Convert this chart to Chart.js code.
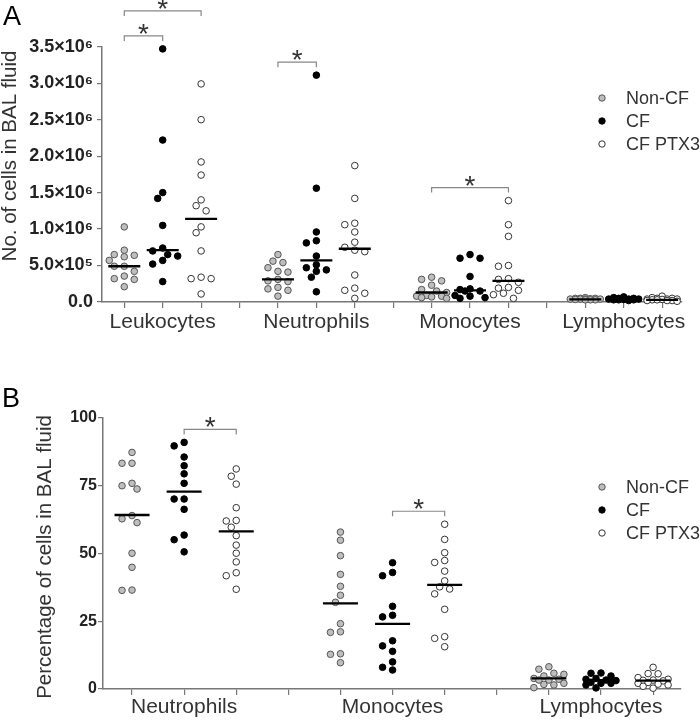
<!DOCTYPE html>
<html>
<head>
<meta charset="utf-8">
<script src="https://cdn.jsdelivr.net/npm/chart.js@4.4.1/dist/chart.umd.min.js"></script>
<style>
  html, body { margin: 0; padding: 0; background: #fff; }
  body { width: 700px; height: 720px; overflow: hidden; position: relative; }
  #wa { position: absolute; left: 0; top: 0; width: 700px; height: 350px; }
  #wb { position: absolute; left: 0; top: 365px; width: 700px; height: 355px; }
</style>
</head>
<body>
<div id="wa"><canvas id="ca"></canvas></div>
<div id="wb"><canvas id="cb"></canvas></div>
<script>
// ---------------- data ----------------
const groups = ['Non-CF', 'CF', 'CF PTX3'];

// Panel A: number of cells in BAL fluid, in millions (x10^6)
const categoriesA = ['Leukocytes', 'Neutrophils', 'Monocytes', 'Lymphocytes'];
const aNonCF = [
  [1.03, 0.71, 0.65, 0.64, 0.62, 0.57, 0.49, 0.49, 0.42, 0.355, 0.32, 0.31, 0.21],
  [0.65, 0.56, 0.54, 0.47, 0.42, 0.41, 0.31, 0.29, 0.28, 0.20, 0.18, 0.16, 0.08],
  [0.34, 0.31, 0.29, 0.23, 0.17, 0.15, 0.13, 0.09, 0.08, 0.08, 0.07, 0.06, 0.05],
  [0.06, 0.05, 0.05, 0.05, 0.045, 0.04, 0.04, 0.04, 0.04, 0.035, 0.03, 0.03, 0.03]
];
const aCF = [
  [3.47, 2.22, 1.50, 1.42, 1.05, 0.74, 0.70, 0.65, 0.63, 0.57, 0.52, 0.28],
  [3.11, 1.56, 0.96, 0.84, 0.81, 0.63, 0.51, 0.47, 0.44, 0.42, 0.34, 0.14],
  [0.65, 0.60, 0.60, 0.35, 0.18, 0.17, 0.15, 0.15, 0.09, 0.08, 0.06, 0.05],
  [0.07, 0.06, 0.05, 0.05, 0.04, 0.04, 0.04, 0.035, 0.03, 0.03, 0.03, 0.02]
];
const aPTX3 = [
  [2.99, 2.50, 1.92, 1.74, 1.40, 1.32, 1.25, 1.03, 0.95, 0.70, 0.34, 0.32, 0.32, 0.11],
  [1.87, 1.42, 1.08, 1.06, 0.96, 0.82, 0.75, 0.71, 0.69, 0.37, 0.19, 0.16, 0.12, 0.05],
  [1.39, 1.06, 0.90, 0.50, 0.49, 0.32, 0.31, 0.27, 0.20, 0.19, 0.16, 0.12, 0.10, 0.05],
  [0.08, 0.06, 0.05, 0.05, 0.04, 0.04, 0.04, 0.035, 0.03, 0.03, 0.02, 0.02, 0.02, 0.01]
];
const aMedNonCF = [0.49, 0.31, 0.13, 0.035];
const aMedCF = [0.71, 0.57, 0.16, 0.035];
const aMedPTX3 = [1.14, 0.73, 0.29, 0.03];
const yTickValuesA = [0, 0.5, 1.0, 1.5, 2.0, 2.5, 3.0, 3.5];
const yTickLabelsA = ['0.0', '5.0×10⁵', '1.0×10⁶', '1.5×10⁶', '2.0×10⁶', '2.5×10⁶', '3.0×10⁶', '3.5×10⁶'];
// significant comparisons: [category, group, group]
const comparisonsA = [[0, 0, 1], [0, 0, 2], [1, 0, 1], [2, 0, 2]];

// Panel B: percentage of cells in BAL fluid
const categoriesB = ['Neutrophils', 'Monocytes', 'Lymphocytes'];
const bNonCF = [
  [87.3, 83.3, 83.3, 75.9, 75.0, 73.8, 64.0, 62.8, 61.4, 50.1, 44.9, 36.5, 36.4],
  [57.9, 54.9, 49.2, 42.3, 37.9, 34.6, 32.0, 24.1, 21.1, 20.9, 13.0, 12.8, 9.7],
  [8.2, 7.3, 5.8, 5.4, 4.8, 3.9, 3.6, 3.3, 3.3, 2.1, 1.7, 1.5, 0.5]
];
const bCF = [
  [91.0, 89.7, 85.6, 82.4, 79.4, 75.9, 70.1, 70.1, 66.3, 56.8, 55.1, 50.6],
  [46.6, 43.0, 41.8, 30.5, 27.2, 26.6, 17.8, 15.9, 13.9, 10.0, 8.0, 7.0],
  [5.9, 5.8, 4.8, 3.9, 3.6, 3.3, 3.1, 2.5, 2.1, 2.1, 1.5, 0.4]
];
const bPTX3 = [
  [81.2, 78.5, 75.6, 66.9, 62.2, 62.0, 59.7, 56.6, 53.1, 50.1, 46.9, 42.9, 41.8, 36.8],
  [60.8, 55.2, 50.3, 47.4, 46.7, 43.5, 39.9, 37.7, 36.9, 35.1, 29.4, 19.3, 18.7, 15.6],
  [8.0, 5.7, 5.6, 4.2, 3.6, 3.3, 3.2, 3.0, 2.4, 2.1, 1.8, 1.5, 1.0, 0.3]
];
const bMedNonCF = [64.2, 31.6, 3.9];
const bMedCF = [72.8, 24.0, 3.3];
const bMedPTX3 = [58.2, 38.4, 3.1];
const yTickValuesB = [0, 25, 50, 75, 100];
const yTickLabelsB = ['0', '25', '50', '75', '100'];
const comparisonsB = [[0, 1, 2], [1, 1, 2]];

// ---------------- styling ----------------
const FONT = "'Liberation Sans', Arial, Helvetica, sans-serif";
const FILL = ['#bebebe', '#000000', '#ffffff'];
const EDGE = ['#555555', '#000000', '#333333'];
const AXIS = '#777777';
const slotOf = (c, g) => c * 4 + g;

// ---------------- decoration plugin ----------------
const decorPlugin = {
  id: 'decor',
  afterDraw(chart, args, o) {
    const ctx = chart.ctx;
    const xs = chart.scales.x, ys = chart.scales.y;
    ctx.save();
    // panel letter
    ctx.fillStyle = '#000';
    ctx.font = '27px ' + FONT;
    ctx.textAlign = 'left';
    ctx.textBaseline = 'alphabetic';
    ctx.fillText(o.letter, o.letterX, o.letterY);
    // y axis title
    ctx.save();
    ctx.translate(o.titleX, o.titleY);
    ctx.rotate(-Math.PI / 2);
    ctx.fillStyle = '#333';
    ctx.font = '20.5px ' + FONT;
    ctx.textAlign = 'center';
    ctx.textBaseline = 'middle';
    ctx.fillText(o.title, 0, 0);
    ctx.restore();
    // legend
    ctx.font = '18px ' + FONT;
    ctx.textBaseline = 'middle';
    ctx.textAlign = 'left';
    for (let g = 0; g < 3; g++) {
      const ds = chart.data.datasets[g];
      const y = o.legendY + g * o.legendGap;
      ctx.beginPath();
      ctx.arc(o.legendX, y, 3.2, 0, Math.PI * 2);
      ctx.fillStyle = ds.pointBackgroundColor;
      ctx.fill();
      ctx.lineWidth = 1;
      ctx.strokeStyle = ds.pointBorderColor;
      ctx.stroke();
      ctx.fillStyle = '#333';
      ctx.fillText(ds.label, o.legendX + 24, y + 1);
    }
    // significance brackets
    const drawn = [];
    o.comparisons.forEach(([c, g1, g2]) => {
      const x1 = xs.getPixelForValue(slotOf(c, g1));
      const x2 = xs.getPixelForValue(slotOf(c, g2));
      let top = Infinity;
      for (let g = g1; g <= g2; g++) {
        o.series[g][c].forEach(v => { top = Math.min(top, ys.getPixelForValue(v)); });
      }
      let level = top - 13;
      drawn.forEach(d => {
        if (d.x1 <= x2 && d.x2 >= x1) level = Math.min(level, d.level - 25);
      });
      drawn.push({ x1, x2, level });
      ctx.beginPath();
      ctx.strokeStyle = '#888';
      ctx.lineWidth = 1.2;
      ctx.moveTo(x1, level + 5);
      ctx.lineTo(x1, level);
      ctx.lineTo(x2, level);
      ctx.lineTo(x2, level + 5);
      ctx.stroke();
      ctx.fillStyle = '#333';
      ctx.font = '28px ' + FONT;
      ctx.textAlign = 'center';
      ctx.textBaseline = 'alphabetic';
      ctx.fillText('*', (x1 + x2) / 2, level + 7);
    });
    ctx.restore();
  }
};

// beeswarm: place points side by side in columns when they would overlap
function swarm(chart, series) {
  const xs = chart.scales.x, ys = chart.scales.y;
  const pxPerSlot = xs.getPixelForValue(1) - xs.getPixelForValue(0);
  const COL = 5, D = 7.5, MAXK = 3;
  for (let g = 0; g < 3; g++) {
    const data = [];
    series[g].forEach((vals, c) => {
      const idx = vals.map((v, i) => i).sort((a, b) => vals[b] - vals[a]);
      const placed = [];
      idx.forEach(i => {
        const py = ys.getPixelForValue(vals[i]);
        let best = 0, bestD = -1;
        for (let j = 0; j <= 2 * MAXK; j++) {
          const k = j === 0 ? 0 : (j % 2 ? -Math.ceil(j / 2) : j / 2);
          let md = Infinity;
          placed.forEach(p => { md = Math.min(md, Math.hypot((k - p.k) * COL, py - p.py)); });
          if (md >= D) { best = k; break; }
          if (md > bestD) { bestD = md; best = k; }
        }
        placed.push({ k: best, py });
        data.push({ x: slotOf(c, g) + best * COL / pxPerSlot, y: vals[i] });
      });
    });
    chart.data.datasets[g].data = data;
  }
  chart.update('none');
}

function buildPanel(canvasId, cfg) {
  const datasets = groups.map((name, g) => ({
    label: name,
    data: cfg.series[g].flatMap((vals, c) => vals.map(v => ({ x: slotOf(c, g), y: v }))),
    pointBackgroundColor: FILL[g],
    pointBorderColor: EDGE[g],
    pointBorderWidth: 1,
    pointRadius: 3.3,
    pointHoverRadius: 3.3,
    showLine: false,
    clip: false,
    order: 2
  }));
  datasets.push({
    label: 'Median',
    data: cfg.medians.flatMap((m, g) => m.map((v, c) => ({ x: slotOf(c, g), y: v }))),
    pointStyle: 'line',
    pointRadius: cfg.medHalf,
    pointHoverRadius: cfg.medHalf,
    pointBorderColor: '#000',
    pointBorderWidth: 2.3,
    showLine: false,
    clip: false,
    order: 1
  });
  const nSlots = cfg.categories.length * 4 - 1;
  const chart = new Chart(document.getElementById(canvasId), {
    type: 'scatter',
    data: { datasets },
    plugins: [decorPlugin],
    options: {
      responsive: true,
      maintainAspectRatio: false,
      animation: false,
      events: [],
      layout: { padding: { top: cfg.padTop, left: 0, right: 0, bottom: 0 } },
      plugins: {
        legend: { display: false },
        tooltip: { enabled: false },
        decor: cfg.decor
      },
      scales: {
        x: {
          type: 'linear',
          min: cfg.xMin,
          max: cfg.xMax,
          afterBuildTicks: s => { s.ticks = Array.from({ length: nSlots }, (_, i) => ({ value: i })); },
          afterFit: s => { s.height = cfg.xHeight; },
          grid: { display: true, drawOnChartArea: false, drawTicks: true, tickLength: 6, color: AXIS, lineWidth: 1.2 },
          border: { display: true, color: AXIS, width: 1.5 },
          ticks: {
            autoSkip: false, maxRotation: 0, minRotation: 0, padding: cfg.xPad,
            color: '#333',
            font: { family: FONT, size: 21 },
            callback: v => {
              const c = (v - 1) / 4;
              return Number.isInteger(c) && c >= 0 && c < cfg.categories.length ? cfg.categories[c] : '';
            }
          }
        },
        y: {
          type: 'linear',
          min: cfg.yTickValues[0],
          max: cfg.yTickValues[cfg.yTickValues.length - 1],
          afterBuildTicks: s => { s.ticks = cfg.yTickValues.map(v => ({ value: v })); },
          afterFit: s => { s.width = cfg.yWidth; },
          grid: { display: true, drawOnChartArea: false, drawTicks: true, tickLength: 5, color: AXIS, lineWidth: 1.2 },
          border: { display: true, color: AXIS, width: 1.5 },
          ticks: {
            padding: cfg.yPad,
            color: '#222',
            font: { family: FONT, size: cfg.yFont, weight: 'bold' },
            callback: (v, i) => cfg.yTickLabels[i]
          }
        }
      }
    }
  });
  swarm(chart, cfg.series);
  return chart;
}

const seriesA = [aNonCF, aCF, aPTX3];
const seriesB = [bNonCF, bCF, bPTX3];

buildPanel('ca', {
  categories: categoriesA, series: seriesA, medians: [aMedNonCF, aMedCF, aMedPTX3],
  yTickValues: yTickValuesA, yTickLabels: yTickLabelsA,
  xMin: -0.58, xMax: 14.51, padTop: 46.7, xHeight: 48, yWidth: 102, xPad: 2, yPad: 4, yFont: 18, medHalf: 16,
  decor: {
    letter: 'A', letterX: 3, letterY: 25, title: 'No. of cells in BAL fluid', titleX: 10, titleY: 156,
    legendX: 602, legendY: 98, legendGap: 23, comparisons: comparisonsA, series: seriesA
  }
});

buildPanel('cb', {
  categories: categoriesB, series: seriesB, medians: [bMedNonCF, bMedCF, bMedPTX3],
  yTickValues: yTickValuesB, yTickLabels: yTickLabelsB,
  xMin: -0.557, xMax: 10.52, padTop: 53, xHeight: 31, yWidth: 103, xPad: 0, yPad: 1, yFont: 16, medHalf: 17.5,
  decor: {
    letter: 'B', letterX: 2, letterY: 42, title: 'Percentage of cells in BAL fluid', titleX: 45, titleY: 192,
    legendX: 602, legendY: 122, legendGap: 23, comparisons: comparisonsB, series: seriesB
  }
});
</script>
</body>
</html>
